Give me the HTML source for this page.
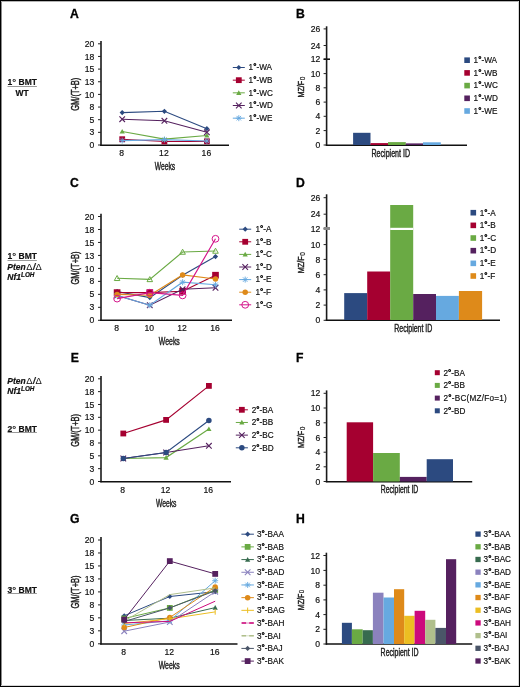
<!DOCTYPE html>
<html><head><meta charset="utf-8"><style>
html,body{margin:0;padding:0;background:#fff;width:520px;height:687px;overflow:hidden}
svg{display:block;filter:blur(0.45px)}
text{font-family:"Liberation Sans", sans-serif}
</style></head><body>
<svg width="520" height="687" viewBox="0 0 520 687" font-family='"Liberation Sans", sans-serif'>
<rect x="0" y="1" width="1" height="686" fill="#8c8c8c" transform="translate(1,0)"/>
<rect x="1" y="1" width="518" height="1" fill="#b4b4b4"/>
<rect x="518" y="1" width="1" height="685" fill="#d6d6d6"/>
<rect x="1" y="685" width="517" height="1" fill="#d6d6d6"/>
<rect x="0.5" y="0.5" width="519" height="686" fill="none" stroke="#000" stroke-width="1"/>
<text x="70.05" y="18.4" font-size="12.2" text-anchor="start" font-weight="bold" font-style="normal" fill="#000" stroke="#000" stroke-width="0.3">A</text>
<text x="296.05" y="17.9" font-size="12.2" text-anchor="start" font-weight="bold" font-style="normal" fill="#000" stroke="#000" stroke-width="0.3">B</text>
<text x="70.05" y="186.9" font-size="12.2" text-anchor="start" font-weight="bold" font-style="normal" fill="#000" stroke="#000" stroke-width="0.3">C</text>
<text x="296.05" y="186.7" font-size="12.2" text-anchor="start" font-weight="bold" font-style="normal" fill="#000" stroke="#000" stroke-width="0.3">D</text>
<text x="70.65" y="361.6" font-size="12.2" text-anchor="start" font-weight="bold" font-style="normal" fill="#000" stroke="#000" stroke-width="0.3">E</text>
<text x="296.05" y="361.6" font-size="12.2" text-anchor="start" font-weight="bold" font-style="normal" fill="#000" stroke="#000" stroke-width="0.3">F</text>
<text x="70.05" y="522.9" font-size="12.2" text-anchor="start" font-weight="bold" font-style="normal" fill="#000" stroke="#000" stroke-width="0.3">G</text>
<text x="296.05" y="523.3" font-size="12.2" text-anchor="start" font-weight="bold" font-style="normal" fill="#000" stroke="#000" stroke-width="0.3">H</text>
<text x="7.5" y="85.4" font-size="8.5" font-weight="bold" fill="#111" stroke="#111" stroke-width="0.18">1<tspan font-size="9.8" stroke="#111" stroke-width="0.1">°</tspan><tspan> </tspan>BMT</text>
<line x1="7.5" y1="86.5" x2="36.9" y2="86.5" stroke="#999" stroke-width="1"/>
<text x="22.1" y="95.9" font-size="8.5" text-anchor="middle" font-weight="bold" font-style="normal" fill="#111" stroke="#111" stroke-width="0.18">WT</text>
<text x="7.5" y="259.2" font-size="8.5" font-weight="bold" fill="#111" stroke="#111" stroke-width="0.18">1<tspan font-size="9.8" stroke="#111" stroke-width="0.1">°</tspan><tspan> </tspan>BMT</text>
<line x1="7.5" y1="260.5" x2="36.9" y2="260.5" stroke="#999" stroke-width="1"/>
<text x="7.3" y="269.7" font-size="8.5" font-weight="bold" font-style="italic" fill="#111" stroke="#111" stroke-width="0.2">Pten<tspan font-weight="normal" font-style="normal" font-size="9.4" dx="0.6" stroke-width="0">&#916;</tspan><tspan dx="0.3">/</tspan><tspan font-weight="normal" font-style="normal" font-size="9.4" dx="0.3" stroke-width="0">&#916;</tspan></text>
<text x="7.3" y="279.7" font-size="8.5" font-weight="bold" font-style="italic" fill="#111" stroke="#111" stroke-width="0.2">Nf1<tspan font-size="6.4" dy="-2.4">LOH</tspan></text>
<text x="7.3" y="383.7" font-size="8.5" font-weight="bold" font-style="italic" fill="#111" stroke="#111" stroke-width="0.2">Pten<tspan font-weight="normal" font-style="normal" font-size="9.4" dx="0.6" stroke-width="0">&#916;</tspan><tspan dx="0.3">/</tspan><tspan font-weight="normal" font-style="normal" font-size="9.4" dx="0.3" stroke-width="0">&#916;</tspan></text>
<text x="7.3" y="393.8" font-size="8.5" font-weight="bold" font-style="italic" fill="#111" stroke="#111" stroke-width="0.2">Nf1<tspan font-size="6.4" dy="-2.4">LOH</tspan></text>
<text x="7.5" y="431.7" font-size="8.5" font-weight="bold" fill="#111" stroke="#111" stroke-width="0.18">2<tspan font-size="9.8" stroke="#111" stroke-width="0.1">°</tspan><tspan> </tspan>BMT</text>
<line x1="7.5" y1="432.5" x2="36.9" y2="432.5" stroke="#999" stroke-width="1"/>
<text x="7.5" y="592.7" font-size="8.5" font-weight="bold" fill="#111" stroke="#111" stroke-width="0.18">3<tspan font-size="9.8" stroke="#111" stroke-width="0.1">°</tspan><tspan> </tspan>BMT</text>
<line x1="7.5" y1="593.5" x2="36.9" y2="593.5" stroke="#999" stroke-width="1"/>
<line x1="101" y1="41" x2="101" y2="145.7" stroke="#1a1a1a" stroke-width="1.6"/>
<line x1="98" y1="145.0" x2="101" y2="145.0" stroke="#222" stroke-width="1"/>
<text x="94.2" y="148.1" font-size="8.6" text-anchor="end" font-weight="normal" font-style="normal" fill="#111"  stroke="#111" stroke-width="0.18">0</text>
<line x1="98" y1="132.35" x2="101" y2="132.35" stroke="#222" stroke-width="1"/>
<text x="94.2" y="135.45" font-size="8.6" text-anchor="end" font-weight="normal" font-style="normal" fill="#111"  stroke="#111" stroke-width="0.18">3</text>
<line x1="98" y1="119.7" x2="101" y2="119.7" stroke="#222" stroke-width="1"/>
<text x="94.2" y="122.8" font-size="8.6" text-anchor="end" font-weight="normal" font-style="normal" fill="#111"  stroke="#111" stroke-width="0.18">5</text>
<line x1="98" y1="107.05" x2="101" y2="107.05" stroke="#222" stroke-width="1"/>
<text x="94.2" y="110.14999999999999" font-size="8.6" text-anchor="end" font-weight="normal" font-style="normal" fill="#111"  stroke="#111" stroke-width="0.18">8</text>
<line x1="98" y1="94.4" x2="101" y2="94.4" stroke="#222" stroke-width="1"/>
<text x="94.2" y="97.5" font-size="8.6" text-anchor="end" font-weight="normal" font-style="normal" fill="#111"  stroke="#111" stroke-width="0.18">10</text>
<line x1="98" y1="81.75" x2="101" y2="81.75" stroke="#222" stroke-width="1"/>
<text x="94.2" y="84.85" font-size="8.6" text-anchor="end" font-weight="normal" font-style="normal" fill="#111"  stroke="#111" stroke-width="0.18">13</text>
<line x1="98" y1="69.1" x2="101" y2="69.1" stroke="#222" stroke-width="1"/>
<text x="94.2" y="72.19999999999999" font-size="8.6" text-anchor="end" font-weight="normal" font-style="normal" fill="#111"  stroke="#111" stroke-width="0.18">15</text>
<line x1="98" y1="56.45" x2="101" y2="56.45" stroke="#222" stroke-width="1"/>
<text x="94.2" y="59.550000000000004" font-size="8.6" text-anchor="end" font-weight="normal" font-style="normal" fill="#111"  stroke="#111" stroke-width="0.18">18</text>
<line x1="98" y1="43.8" x2="101" y2="43.8" stroke="#222" stroke-width="1"/>
<text x="94.2" y="46.9" font-size="8.6" text-anchor="end" font-weight="normal" font-style="normal" fill="#111"  stroke="#111" stroke-width="0.18">20</text>
<line x1="100.2" y1="145.3" x2="229" y2="145.3" stroke="#111" stroke-width="1.5"/>
<text x="121.7" y="155.8" font-size="8.6" text-anchor="middle" font-weight="normal" font-style="normal" fill="#111"  stroke="#111" stroke-width="0.18">8</text>
<text x="163.9" y="155.8" font-size="8.6" text-anchor="middle" font-weight="normal" font-style="normal" fill="#111"  stroke="#111" stroke-width="0.18">12</text>
<text x="206.4" y="155.8" font-size="8.6" text-anchor="middle" font-weight="normal" font-style="normal" fill="#111"  stroke="#111" stroke-width="0.18">16</text>
<text x="154.8" y="170" font-size="10.2" fill="#222" stroke="#222" stroke-width="0.42" textLength="20.4" lengthAdjust="spacingAndGlyphs" text-anchor="start">Weeks</text>
<text transform="translate(79.2,94.2) rotate(-90)" x="0" y="0" font-size="10.6" fill="#1a1a1a" stroke="#1a1a1a" stroke-width="0.45" text-anchor="middle" textLength="33" lengthAdjust="spacingAndGlyphs">GM/(T+B)</text>
<path d="M122.2 112.6L164.4 111.3L206.9 128.7" stroke="#2c4a80" stroke-width="1.15" fill="none"/>
<path d="M122.2 110.0L124.8 112.6L122.2 115.19999999999999L119.60000000000001 112.6Z" fill="#2c4a80"/>
<path d="M164.4 108.7L167.0 111.3L164.4 113.89999999999999L161.8 111.3Z" fill="#2c4a80"/>
<path d="M206.9 126.1L209.5 128.7L206.9 131.29999999999998L204.3 128.7Z" fill="#2c4a80"/>
<path d="M122.2 139.2L164.4 141.5L206.9 141.3" stroke="#a50030" stroke-width="1.15" fill="none"/>
<rect x="119.3" y="136.29999999999998" width="5.8" height="5.8" fill="#a50030"/>
<rect x="161.5" y="138.6" width="5.8" height="5.8" fill="#a50030"/>
<rect x="204.0" y="138.4" width="5.8" height="5.8" fill="#a50030"/>
<path d="M122.2 131.5L164.4 139.1L206.9 135.5" stroke="#6aaa44" stroke-width="1.15" fill="none"/>
<path d="M122.2 128.9L124.8 133.58L119.60000000000001 133.58Z" fill="#6aaa44"/>
<path d="M164.4 136.5L167.0 141.18L161.8 141.18Z" fill="#6aaa44"/>
<path d="M206.9 132.9L209.5 137.58L204.3 137.58Z" fill="#6aaa44"/>
<path d="M122.2 119.2L164.4 120.8L206.9 132.3" stroke="#55215f" stroke-width="1.15" fill="none"/>
<path d="M119.4 116.4L125.0 122.0M125.0 116.4L119.4 122.0" stroke="#55215f" stroke-width="1.1" fill="none"/>
<path d="M161.6 118.0L167.20000000000002 123.6M167.20000000000002 118.0L161.6 123.6" stroke="#55215f" stroke-width="1.1" fill="none"/>
<path d="M204.1 129.5L209.70000000000002 135.10000000000002M209.70000000000002 129.5L204.1 135.10000000000002" stroke="#55215f" stroke-width="1.1" fill="none"/>
<path d="M122.2 140.6L164.4 139.6L206.9 141" stroke="#66a9e0" stroke-width="1.15" fill="none"/>
<path d="M119.2 140.6L125.2 140.6M122.2 137.6L122.2 143.6M119.95 138.35L124.45 142.85M124.45 138.35L119.95 142.85" stroke="#66a9e0" stroke-width="0.9" fill="none"/>
<path d="M161.4 139.6L167.4 139.6M164.4 136.6L164.4 142.6M162.15 137.35L166.65 141.85M166.65 137.35L162.15 141.85" stroke="#66a9e0" stroke-width="0.9" fill="none"/>
<path d="M203.9 141L209.9 141M206.9 138.0L206.9 144.0M204.65 138.75L209.15 143.25M209.15 138.75L204.65 143.25" stroke="#66a9e0" stroke-width="0.9" fill="none"/>
<line x1="232.8" y1="67.5" x2="244.8" y2="67.5" stroke="#2c4a80" stroke-width="1"/>
<path d="M238.8 64.9L241.4 67.5L238.8 70.1L236.20000000000002 67.5Z" fill="#2c4a80"/>
<text x="248.6" y="70.3" font-size="8.2" text-anchor="start" font-weight="normal" font-style="normal" fill="#111"  stroke="#111" stroke-width="0.18">1<tspan stroke="#111" stroke-width="0.55">°</tspan>-WA</text>
<line x1="232.8" y1="80.17" x2="244.8" y2="80.17" stroke="#a50030" stroke-width="1"/>
<rect x="235.9" y="77.27" width="5.8" height="5.8" fill="#a50030"/>
<text x="248.6" y="82.97" font-size="8.2" text-anchor="start" font-weight="normal" font-style="normal" fill="#111"  stroke="#111" stroke-width="0.18">1<tspan stroke="#111" stroke-width="0.55">°</tspan>-WB</text>
<line x1="232.8" y1="92.84" x2="244.8" y2="92.84" stroke="#6aaa44" stroke-width="1"/>
<path d="M238.8 90.24000000000001L241.4 94.92L236.20000000000002 94.92Z" fill="#6aaa44"/>
<text x="248.6" y="95.64" font-size="8.2" text-anchor="start" font-weight="normal" font-style="normal" fill="#111"  stroke="#111" stroke-width="0.18">1<tspan stroke="#111" stroke-width="0.55">°</tspan>-WC</text>
<line x1="232.8" y1="105.50999999999999" x2="244.8" y2="105.50999999999999" stroke="#55215f" stroke-width="1"/>
<path d="M236.0 102.71L241.60000000000002 108.30999999999999M241.60000000000002 102.71L236.0 108.30999999999999" stroke="#55215f" stroke-width="1.1" fill="none"/>
<text x="248.6" y="108.30999999999999" font-size="8.2" text-anchor="start" font-weight="normal" font-style="normal" fill="#111"  stroke="#111" stroke-width="0.18">1<tspan stroke="#111" stroke-width="0.55">°</tspan>-WD</text>
<line x1="232.8" y1="118.18" x2="244.8" y2="118.18" stroke="#66a9e0" stroke-width="1"/>
<path d="M235.8 118.18L241.8 118.18M238.8 115.18L238.8 121.18M236.55 115.93L241.05 120.43M241.05 115.93L236.55 120.43" stroke="#66a9e0" stroke-width="0.9" fill="none"/>
<text x="248.6" y="120.98" font-size="8.2" text-anchor="start" font-weight="normal" font-style="normal" fill="#111"  stroke="#111" stroke-width="0.18">1<tspan stroke="#111" stroke-width="0.55">°</tspan>-WE</text>
<line x1="326.6" y1="26.3" x2="326.6" y2="145.7" stroke="#1a1a1a" stroke-width="1.6"/>
<line x1="323.6" y1="145" x2="326.6" y2="145" stroke="#222" stroke-width="1"/>
<text x="320.3" y="148.1" font-size="8.6" text-anchor="end" font-weight="normal" font-style="normal" fill="#111"  stroke="#111" stroke-width="0.18">0</text>
<line x1="323.6" y1="130.6" x2="326.6" y2="130.6" stroke="#222" stroke-width="1"/>
<text x="320.3" y="133.7" font-size="8.6" text-anchor="end" font-weight="normal" font-style="normal" fill="#111"  stroke="#111" stroke-width="0.18">2</text>
<line x1="323.6" y1="116.3" x2="326.6" y2="116.3" stroke="#222" stroke-width="1"/>
<text x="320.3" y="119.39999999999999" font-size="8.6" text-anchor="end" font-weight="normal" font-style="normal" fill="#111"  stroke="#111" stroke-width="0.18">4</text>
<line x1="323.6" y1="102.1" x2="326.6" y2="102.1" stroke="#222" stroke-width="1"/>
<text x="320.3" y="105.19999999999999" font-size="8.6" text-anchor="end" font-weight="normal" font-style="normal" fill="#111"  stroke="#111" stroke-width="0.18">6</text>
<line x1="323.6" y1="87.8" x2="326.6" y2="87.8" stroke="#222" stroke-width="1"/>
<text x="320.3" y="90.89999999999999" font-size="8.6" text-anchor="end" font-weight="normal" font-style="normal" fill="#111"  stroke="#111" stroke-width="0.18">8</text>
<line x1="323.6" y1="73.6" x2="326.6" y2="73.6" stroke="#222" stroke-width="1"/>
<text x="320.3" y="76.69999999999999" font-size="8.6" text-anchor="end" font-weight="normal" font-style="normal" fill="#111"  stroke="#111" stroke-width="0.18">10</text>
<line x1="323.6" y1="59.2" x2="326.6" y2="59.2" stroke="#222" stroke-width="1"/>
<text x="320.3" y="62.300000000000004" font-size="8.6" text-anchor="end" font-weight="normal" font-style="normal" fill="#111"  stroke="#111" stroke-width="0.18">12</text>
<line x1="323.6" y1="45.5" x2="326.6" y2="45.5" stroke="#222" stroke-width="1"/>
<text x="320.3" y="48.6" font-size="8.6" text-anchor="end" font-weight="normal" font-style="normal" fill="#111"  stroke="#111" stroke-width="0.18">24</text>
<line x1="323.6" y1="28.9" x2="326.6" y2="28.9" stroke="#222" stroke-width="1"/>
<text x="320.3" y="32.0" font-size="8.6" text-anchor="end" font-weight="normal" font-style="normal" fill="#111"  stroke="#111" stroke-width="0.18">26</text>
<line x1="323.6" y1="59.2" x2="330" y2="59.2" stroke="#111" stroke-width="1.6"/>
<line x1="325.8" y1="145.3" x2="467" y2="145.3" stroke="#111" stroke-width="1.5"/>
<rect x="353.1" y="132.8" width="17.399999999999977" height="12.199999999999989" fill="#2c4a80"/>
<rect x="370.5" y="143.1" width="17.5" height="1.9000000000000057" fill="#a50030"/>
<rect x="388" y="142.1" width="17.80000000000001" height="2.9000000000000057" fill="#6aaa44"/>
<rect x="405.8" y="143.4" width="17.19999999999999" height="1.5999999999999943" fill="#55215f"/>
<rect x="423" y="142.3" width="17.80000000000001" height="2.6999999999999886" fill="#66a9e0"/>
<text x="371.5" y="157" font-size="10.0" fill="#222" stroke="#222" stroke-width="0.42" textLength="38.5" lengthAdjust="spacingAndGlyphs" text-anchor="start">Recipient ID</text>
<text transform="translate(304.1,97.6) rotate(-90)" x="0" y="0" font-size="9.8" fill="#1a1a1a" stroke="#1a1a1a" stroke-width="0.42" textLength="16.80" lengthAdjust="spacingAndGlyphs">MZ/F</text>
<text transform="translate(304.6,80.20) rotate(-90)" x="0" y="0" font-size="6.6" fill="#222" stroke="#222" stroke-width="0.2" textLength="3.60" lengthAdjust="spacingAndGlyphs">0</text>
<rect x="464.3" y="57.400000000000006" width="5.6" height="5.6" fill="#2c4a80"/>
<text x="473.6" y="63.0" font-size="8.2" text-anchor="start" font-weight="normal" font-style="normal" fill="#111"  stroke="#111" stroke-width="0.18">1<tspan stroke="#111" stroke-width="0.55">°</tspan>-WA</text>
<rect x="464.3" y="70.10000000000001" width="5.6" height="5.6" fill="#a50030"/>
<text x="473.6" y="75.7" font-size="8.2" text-anchor="start" font-weight="normal" font-style="normal" fill="#111"  stroke="#111" stroke-width="0.18">1<tspan stroke="#111" stroke-width="0.55">°</tspan>-WB</text>
<rect x="464.3" y="82.8" width="5.6" height="5.6" fill="#6aaa44"/>
<text x="473.6" y="88.39999999999999" font-size="8.2" text-anchor="start" font-weight="normal" font-style="normal" fill="#111"  stroke="#111" stroke-width="0.18">1<tspan stroke="#111" stroke-width="0.55">°</tspan>-WC</text>
<rect x="464.3" y="95.5" width="5.6" height="5.6" fill="#55215f"/>
<text x="473.6" y="101.1" font-size="8.2" text-anchor="start" font-weight="normal" font-style="normal" fill="#111"  stroke="#111" stroke-width="0.18">1<tspan stroke="#111" stroke-width="0.55">°</tspan>-WD</text>
<rect x="464.3" y="108.2" width="5.6" height="5.6" fill="#66a9e0"/>
<text x="473.6" y="113.8" font-size="8.2" text-anchor="start" font-weight="normal" font-style="normal" fill="#111"  stroke="#111" stroke-width="0.18">1<tspan stroke="#111" stroke-width="0.55">°</tspan>-WE</text>
<line x1="101" y1="213.7" x2="101" y2="321.0" stroke="#1a1a1a" stroke-width="1.6"/>
<line x1="98" y1="320.3" x2="101" y2="320.3" stroke="#222" stroke-width="1"/>
<text x="94.2" y="323.40000000000003" font-size="8.6" text-anchor="end" font-weight="normal" font-style="normal" fill="#111"  stroke="#111" stroke-width="0.18">0</text>
<line x1="98" y1="307.325" x2="101" y2="307.325" stroke="#222" stroke-width="1"/>
<text x="94.2" y="310.425" font-size="8.6" text-anchor="end" font-weight="normal" font-style="normal" fill="#111"  stroke="#111" stroke-width="0.18">3</text>
<line x1="98" y1="294.35" x2="101" y2="294.35" stroke="#222" stroke-width="1"/>
<text x="94.2" y="297.45000000000005" font-size="8.6" text-anchor="end" font-weight="normal" font-style="normal" fill="#111"  stroke="#111" stroke-width="0.18">5</text>
<line x1="98" y1="281.375" x2="101" y2="281.375" stroke="#222" stroke-width="1"/>
<text x="94.2" y="284.475" font-size="8.6" text-anchor="end" font-weight="normal" font-style="normal" fill="#111"  stroke="#111" stroke-width="0.18">8</text>
<line x1="98" y1="268.4" x2="101" y2="268.4" stroke="#222" stroke-width="1"/>
<text x="94.2" y="271.5" font-size="8.6" text-anchor="end" font-weight="normal" font-style="normal" fill="#111"  stroke="#111" stroke-width="0.18">10</text>
<line x1="98" y1="255.425" x2="101" y2="255.425" stroke="#222" stroke-width="1"/>
<text x="94.2" y="258.52500000000003" font-size="8.6" text-anchor="end" font-weight="normal" font-style="normal" fill="#111"  stroke="#111" stroke-width="0.18">13</text>
<line x1="98" y1="242.45" x2="101" y2="242.45" stroke="#222" stroke-width="1"/>
<text x="94.2" y="245.54999999999998" font-size="8.6" text-anchor="end" font-weight="normal" font-style="normal" fill="#111"  stroke="#111" stroke-width="0.18">15</text>
<line x1="98" y1="229.475" x2="101" y2="229.475" stroke="#222" stroke-width="1"/>
<text x="94.2" y="232.575" font-size="8.6" text-anchor="end" font-weight="normal" font-style="normal" fill="#111"  stroke="#111" stroke-width="0.18">18</text>
<line x1="98" y1="216.5" x2="101" y2="216.5" stroke="#222" stroke-width="1"/>
<text x="94.2" y="219.6" font-size="8.6" text-anchor="end" font-weight="normal" font-style="normal" fill="#111"  stroke="#111" stroke-width="0.18">20</text>
<line x1="100.2" y1="320.3" x2="232" y2="320.3" stroke="#111" stroke-width="1.5"/>
<text x="116.6" y="330.8" font-size="8.6" text-anchor="middle" font-weight="normal" font-style="normal" fill="#111"  stroke="#111" stroke-width="0.18">8</text>
<text x="149.3" y="330.8" font-size="8.6" text-anchor="middle" font-weight="normal" font-style="normal" fill="#111"  stroke="#111" stroke-width="0.18">10</text>
<text x="182.1" y="330.8" font-size="8.6" text-anchor="middle" font-weight="normal" font-style="normal" fill="#111"  stroke="#111" stroke-width="0.18">12</text>
<text x="215.0" y="330.8" font-size="8.6" text-anchor="middle" font-weight="normal" font-style="normal" fill="#111"  stroke="#111" stroke-width="0.18">16</text>
<text x="158.8" y="345.3" font-size="10.2" fill="#222" stroke="#222" stroke-width="0.42" textLength="21" lengthAdjust="spacingAndGlyphs" text-anchor="start">Weeks</text>
<text transform="translate(79.2,268) rotate(-90)" x="0" y="0" font-size="10.6" fill="#1a1a1a" stroke="#1a1a1a" stroke-width="0.45" text-anchor="middle" textLength="33" lengthAdjust="spacingAndGlyphs">GM/(T+B)</text>
<path d="M117.1 291.5L149.8 297.6L182.6 275.2L215.5 256.6" stroke="#2c4a80" stroke-width="1.15" fill="none"/>
<path d="M117.1 288.9L119.69999999999999 291.5L117.1 294.1L114.5 291.5Z" fill="#2c4a80"/>
<path d="M149.8 295.0L152.4 297.6L149.8 300.20000000000005L147.20000000000002 297.6Z" fill="#2c4a80"/>
<path d="M182.6 272.59999999999997L185.2 275.2L182.6 277.8L180.0 275.2Z" fill="#2c4a80"/>
<path d="M215.5 254.00000000000003L218.1 256.6L215.5 259.20000000000005L212.9 256.6Z" fill="#2c4a80"/>
<path d="M117.1 292.6L149.8 292.6L182.6 291.3L215.5 275.2" stroke="#a50030" stroke-width="1.15" fill="none"/>
<rect x="113.765" y="289.26500000000004" width="6.669999999999999" height="6.669999999999999" fill="#a50030"/>
<rect x="146.465" y="289.26500000000004" width="6.669999999999999" height="6.669999999999999" fill="#a50030"/>
<rect x="179.265" y="287.96500000000003" width="6.669999999999999" height="6.669999999999999" fill="#a50030"/>
<rect x="212.165" y="271.865" width="6.669999999999999" height="6.669999999999999" fill="#a50030"/>
<path d="M117.1 278.3L149.8 279.4L182.6 252L215.5 251" stroke="#6aaa44" stroke-width="1.15" fill="none"/>
<path d="M117.1 275.5L119.89999999999999 280.54L114.3 280.54Z" fill="none" stroke="#6aaa44" stroke-width="1"/>
<path d="M149.8 276.59999999999997L152.60000000000002 281.64L147.0 281.64Z" fill="none" stroke="#6aaa44" stroke-width="1"/>
<path d="M182.6 249.2L185.4 254.24L179.79999999999998 254.24Z" fill="none" stroke="#6aaa44" stroke-width="1"/>
<path d="M215.5 248.2L218.3 253.24L212.7 253.24Z" fill="none" stroke="#6aaa44" stroke-width="1"/>
<path d="M117.1 295.5L149.8 305.2L182.6 289.3L215.5 287.8" stroke="#55215f" stroke-width="1.15" fill="none"/>
<path d="M114.3 292.7L119.89999999999999 298.3M119.89999999999999 292.7L114.3 298.3" stroke="#55215f" stroke-width="1.1" fill="none"/>
<path d="M147.0 302.4L152.60000000000002 308.0M152.60000000000002 302.4L147.0 308.0" stroke="#55215f" stroke-width="1.1" fill="none"/>
<path d="M179.79999999999998 286.5L185.4 292.1M185.4 286.5L179.79999999999998 292.1" stroke="#55215f" stroke-width="1.1" fill="none"/>
<path d="M212.7 285.0L218.3 290.6M218.3 285.0L212.7 290.6" stroke="#55215f" stroke-width="1.1" fill="none"/>
<path d="M117.1 295.5L149.8 305.2L182.6 282.2L215.5 284.8" stroke="#66a9e0" stroke-width="1.15" fill="none"/>
<path d="M114.1 295.5L120.1 295.5M117.1 292.5L117.1 298.5M114.85 293.25L119.35 297.75M119.35 293.25L114.85 297.75" stroke="#66a9e0" stroke-width="0.9" fill="none"/>
<path d="M146.8 305.2L152.8 305.2M149.8 302.2L149.8 308.2M147.55 302.95L152.05 307.45M152.05 302.95L147.55 307.45" stroke="#66a9e0" stroke-width="0.9" fill="none"/>
<path d="M179.6 282.2L185.6 282.2M182.6 279.2L182.6 285.2M180.35 279.95L184.85 284.45M184.85 279.95L180.35 284.45" stroke="#66a9e0" stroke-width="0.9" fill="none"/>
<path d="M212.5 284.8L218.5 284.8M215.5 281.8L215.5 287.8M213.25 282.55L217.75 287.05M217.75 282.55L213.25 287.05" stroke="#66a9e0" stroke-width="0.9" fill="none"/>
<path d="M117.1 294.4L149.8 295.2L182.6 274.9L215.5 279" stroke="#de8a1a" stroke-width="1.15" fill="none"/>
<circle cx="117.1" cy="294.4" r="2.75" fill="#de8a1a"/>
<circle cx="149.8" cy="295.2" r="2.75" fill="#de8a1a"/>
<circle cx="182.6" cy="274.9" r="2.75" fill="#de8a1a"/>
<circle cx="215.5" cy="279" r="2.75" fill="#de8a1a"/>
<path d="M117.1 298.6L149.8 292.7L182.6 295.4L215.5 238.8" stroke="#d4148a" stroke-width="1.15" fill="none"/>
<circle cx="117.1" cy="298.6" r="3.4" fill="none" stroke="#d4148a" stroke-width="1"/>
<circle cx="149.8" cy="292.7" r="3.4" fill="none" stroke="#d4148a" stroke-width="1"/>
<circle cx="182.6" cy="295.4" r="3.4" fill="none" stroke="#d4148a" stroke-width="1"/>
<circle cx="215.5" cy="238.8" r="3.4" fill="none" stroke="#d4148a" stroke-width="1"/>
<line x1="239.2" y1="229.2" x2="251.2" y2="229.2" stroke="#2c4a80" stroke-width="1"/>
<path d="M245.2 226.6L247.79999999999998 229.2L245.2 231.79999999999998L242.6 229.2Z" fill="#2c4a80"/>
<text x="255.4" y="232.0" font-size="8.2" text-anchor="start" font-weight="normal" font-style="normal" fill="#111"  stroke="#111" stroke-width="0.18">1<tspan stroke="#111" stroke-width="0.55">°</tspan>-A</text>
<line x1="239.2" y1="241.79999999999998" x2="251.2" y2="241.79999999999998" stroke="#a50030" stroke-width="1"/>
<rect x="242.29999999999998" y="238.89999999999998" width="5.8" height="5.8" fill="#a50030"/>
<text x="255.4" y="244.6" font-size="8.2" text-anchor="start" font-weight="normal" font-style="normal" fill="#111"  stroke="#111" stroke-width="0.18">1<tspan stroke="#111" stroke-width="0.55">°</tspan>-B</text>
<line x1="239.2" y1="254.39999999999998" x2="251.2" y2="254.39999999999998" stroke="#6aaa44" stroke-width="1"/>
<path d="M245.2 251.79999999999998L247.79999999999998 256.47999999999996L242.6 256.47999999999996Z" fill="#6aaa44"/>
<text x="255.4" y="257.2" font-size="8.2" text-anchor="start" font-weight="normal" font-style="normal" fill="#111"  stroke="#111" stroke-width="0.18">1<tspan stroke="#111" stroke-width="0.55">°</tspan>-C</text>
<line x1="239.2" y1="267.0" x2="251.2" y2="267.0" stroke="#55215f" stroke-width="1"/>
<path d="M242.39999999999998 264.2L248.0 269.8M248.0 264.2L242.39999999999998 269.8" stroke="#55215f" stroke-width="1.1" fill="none"/>
<text x="255.4" y="269.8" font-size="8.2" text-anchor="start" font-weight="normal" font-style="normal" fill="#111"  stroke="#111" stroke-width="0.18">1<tspan stroke="#111" stroke-width="0.55">°</tspan>-D</text>
<line x1="239.2" y1="279.59999999999997" x2="251.2" y2="279.59999999999997" stroke="#66a9e0" stroke-width="1"/>
<path d="M242.2 279.59999999999997L248.2 279.59999999999997M245.2 276.59999999999997L245.2 282.59999999999997M242.95 277.34999999999997L247.45 281.84999999999997M247.45 277.34999999999997L242.95 281.84999999999997" stroke="#66a9e0" stroke-width="0.9" fill="none"/>
<text x="255.4" y="282.4" font-size="8.2" text-anchor="start" font-weight="normal" font-style="normal" fill="#111"  stroke="#111" stroke-width="0.18">1<tspan stroke="#111" stroke-width="0.55">°</tspan>-E</text>
<line x1="239.2" y1="292.2" x2="251.2" y2="292.2" stroke="#de8a1a" stroke-width="1"/>
<circle cx="245.2" cy="292.2" r="2.75" fill="#de8a1a"/>
<text x="255.4" y="295.0" font-size="8.2" text-anchor="start" font-weight="normal" font-style="normal" fill="#111"  stroke="#111" stroke-width="0.18">1<tspan stroke="#111" stroke-width="0.55">°</tspan>-F</text>
<line x1="239.2" y1="304.79999999999995" x2="251.2" y2="304.79999999999995" stroke="#d4148a" stroke-width="1"/>
<circle cx="245.2" cy="304.79999999999995" r="3.4" fill="none" stroke="#d4148a" stroke-width="1"/>
<text x="255.4" y="307.59999999999997" font-size="8.2" text-anchor="start" font-weight="normal" font-style="normal" fill="#111"  stroke="#111" stroke-width="0.18">1<tspan stroke="#111" stroke-width="0.55">°</tspan>-G</text>
<line x1="326.6" y1="194.3" x2="326.6" y2="321.0" stroke="#1a1a1a" stroke-width="1.6"/>
<line x1="323.6" y1="320.3" x2="326.6" y2="320.3" stroke="#222" stroke-width="1"/>
<text x="320.3" y="323.40000000000003" font-size="8.6" text-anchor="end" font-weight="normal" font-style="normal" fill="#111"  stroke="#111" stroke-width="0.18">0</text>
<line x1="323.6" y1="305.1" x2="326.6" y2="305.1" stroke="#222" stroke-width="1"/>
<text x="320.3" y="308.20000000000005" font-size="8.6" text-anchor="end" font-weight="normal" font-style="normal" fill="#111"  stroke="#111" stroke-width="0.18">2</text>
<line x1="323.6" y1="289.9" x2="326.6" y2="289.9" stroke="#222" stroke-width="1"/>
<text x="320.3" y="293.0" font-size="8.6" text-anchor="end" font-weight="normal" font-style="normal" fill="#111"  stroke="#111" stroke-width="0.18">4</text>
<line x1="323.6" y1="274.7" x2="326.6" y2="274.7" stroke="#222" stroke-width="1"/>
<text x="320.3" y="277.8" font-size="8.6" text-anchor="end" font-weight="normal" font-style="normal" fill="#111"  stroke="#111" stroke-width="0.18">6</text>
<line x1="323.6" y1="259.4" x2="326.6" y2="259.4" stroke="#222" stroke-width="1"/>
<text x="320.3" y="262.5" font-size="8.6" text-anchor="end" font-weight="normal" font-style="normal" fill="#111"  stroke="#111" stroke-width="0.18">8</text>
<line x1="323.6" y1="244.6" x2="326.6" y2="244.6" stroke="#222" stroke-width="1"/>
<text x="320.3" y="247.7" font-size="8.6" text-anchor="end" font-weight="normal" font-style="normal" fill="#111"  stroke="#111" stroke-width="0.18">10</text>
<line x1="323.6" y1="228.6" x2="326.6" y2="228.6" stroke="#222" stroke-width="1"/>
<text x="320.3" y="231.7" font-size="8.6" text-anchor="end" font-weight="normal" font-style="normal" fill="#111"  stroke="#111" stroke-width="0.18">12</text>
<line x1="323.6" y1="214.2" x2="326.6" y2="214.2" stroke="#222" stroke-width="1"/>
<text x="320.3" y="217.29999999999998" font-size="8.6" text-anchor="end" font-weight="normal" font-style="normal" fill="#111"  stroke="#111" stroke-width="0.18">24</text>
<line x1="323.6" y1="197.7" x2="326.6" y2="197.7" stroke="#222" stroke-width="1"/>
<text x="320.3" y="200.79999999999998" font-size="8.6" text-anchor="end" font-weight="normal" font-style="normal" fill="#111"  stroke="#111" stroke-width="0.18">26</text>
<rect x="323.6" y="227" width="6.4" height="3" fill="#888"/>
<line x1="325.8" y1="320.3" x2="500" y2="320.3" stroke="#111" stroke-width="1.5"/>
<rect x="344.2" y="293.1" width="23.0" height="26.899999999999977" fill="#2c4a80"/>
<rect x="367.2" y="271.5" width="23.0" height="48.5" fill="#a50030"/>
<rect x="390.2" y="205" width="23.0" height="115" fill="#6aaa44"/>
<rect x="390.2" y="227.8" width="23" height="2.2" fill="#fff"/>
<rect x="413.2" y="294" width="22.80000000000001" height="26" fill="#55215f"/>
<rect x="436" y="295.9" width="22.899999999999977" height="24.100000000000023" fill="#66a9e0"/>
<rect x="458.9" y="291" width="23.200000000000045" height="29" fill="#de8a1a"/>
<text x="394.3" y="331.5" font-size="10.0" fill="#222" stroke="#222" stroke-width="0.42" textLength="38" lengthAdjust="spacingAndGlyphs" text-anchor="start">Recipient ID</text>
<text transform="translate(304.2,273.2) rotate(-90)" x="0" y="0" font-size="9.8" fill="#1a1a1a" stroke="#1a1a1a" stroke-width="0.42" textLength="16.80" lengthAdjust="spacingAndGlyphs">MZ/F</text>
<text transform="translate(304.7,255.80) rotate(-90)" x="0" y="0" font-size="6.6" fill="#222" stroke="#222" stroke-width="0.2" textLength="3.60" lengthAdjust="spacingAndGlyphs">0</text>
<rect x="470.5" y="209.89999999999998" width="5.6" height="5.6" fill="#2c4a80"/>
<text x="479.7" y="215.5" font-size="8.2" text-anchor="start" font-weight="normal" font-style="normal" fill="#111"  stroke="#111" stroke-width="0.18">1<tspan stroke="#111" stroke-width="0.55">°</tspan>-A</text>
<rect x="470.5" y="222.55999999999997" width="5.6" height="5.6" fill="#a50030"/>
<text x="479.7" y="228.16" font-size="8.2" text-anchor="start" font-weight="normal" font-style="normal" fill="#111"  stroke="#111" stroke-width="0.18">1<tspan stroke="#111" stroke-width="0.55">°</tspan>-B</text>
<rect x="470.5" y="235.21999999999997" width="5.6" height="5.6" fill="#6aaa44"/>
<text x="479.7" y="240.82" font-size="8.2" text-anchor="start" font-weight="normal" font-style="normal" fill="#111"  stroke="#111" stroke-width="0.18">1<tspan stroke="#111" stroke-width="0.55">°</tspan>-C</text>
<rect x="470.5" y="247.88" width="5.6" height="5.6" fill="#55215f"/>
<text x="479.7" y="253.48000000000002" font-size="8.2" text-anchor="start" font-weight="normal" font-style="normal" fill="#111"  stroke="#111" stroke-width="0.18">1<tspan stroke="#111" stroke-width="0.55">°</tspan>-D</text>
<rect x="470.5" y="260.53999999999996" width="5.6" height="5.6" fill="#66a9e0"/>
<text x="479.7" y="266.14" font-size="8.2" text-anchor="start" font-weight="normal" font-style="normal" fill="#111"  stroke="#111" stroke-width="0.18">1<tspan stroke="#111" stroke-width="0.55">°</tspan>-E</text>
<rect x="470.5" y="273.2" width="5.6" height="5.6" fill="#de8a1a"/>
<text x="479.7" y="278.8" font-size="8.2" text-anchor="start" font-weight="normal" font-style="normal" fill="#111"  stroke="#111" stroke-width="0.18">1<tspan stroke="#111" stroke-width="0.55">°</tspan>-F</text>
<line x1="101" y1="376" x2="101" y2="482.2" stroke="#1a1a1a" stroke-width="1.6"/>
<line x1="98" y1="481.5" x2="101" y2="481.5" stroke="#222" stroke-width="1"/>
<text x="94.2" y="484.6" font-size="8.6" text-anchor="end" font-weight="normal" font-style="normal" fill="#111"  stroke="#111" stroke-width="0.18">0</text>
<line x1="98" y1="468.6625" x2="101" y2="468.6625" stroke="#222" stroke-width="1"/>
<text x="94.2" y="471.76250000000005" font-size="8.6" text-anchor="end" font-weight="normal" font-style="normal" fill="#111"  stroke="#111" stroke-width="0.18">3</text>
<line x1="98" y1="455.825" x2="101" y2="455.825" stroke="#222" stroke-width="1"/>
<text x="94.2" y="458.925" font-size="8.6" text-anchor="end" font-weight="normal" font-style="normal" fill="#111"  stroke="#111" stroke-width="0.18">5</text>
<line x1="98" y1="442.9875" x2="101" y2="442.9875" stroke="#222" stroke-width="1"/>
<text x="94.2" y="446.08750000000003" font-size="8.6" text-anchor="end" font-weight="normal" font-style="normal" fill="#111"  stroke="#111" stroke-width="0.18">8</text>
<line x1="98" y1="430.15" x2="101" y2="430.15" stroke="#222" stroke-width="1"/>
<text x="94.2" y="433.25" font-size="8.6" text-anchor="end" font-weight="normal" font-style="normal" fill="#111"  stroke="#111" stroke-width="0.18">10</text>
<line x1="98" y1="417.3125" x2="101" y2="417.3125" stroke="#222" stroke-width="1"/>
<text x="94.2" y="420.4125" font-size="8.6" text-anchor="end" font-weight="normal" font-style="normal" fill="#111"  stroke="#111" stroke-width="0.18">13</text>
<line x1="98" y1="404.475" x2="101" y2="404.475" stroke="#222" stroke-width="1"/>
<text x="94.2" y="407.57500000000005" font-size="8.6" text-anchor="end" font-weight="normal" font-style="normal" fill="#111"  stroke="#111" stroke-width="0.18">15</text>
<line x1="98" y1="391.63750000000005" x2="101" y2="391.63750000000005" stroke="#222" stroke-width="1"/>
<text x="94.2" y="394.73750000000007" font-size="8.6" text-anchor="end" font-weight="normal" font-style="normal" fill="#111"  stroke="#111" stroke-width="0.18">18</text>
<line x1="98" y1="378.8" x2="101" y2="378.8" stroke="#222" stroke-width="1"/>
<text x="94.2" y="381.90000000000003" font-size="8.6" text-anchor="end" font-weight="normal" font-style="normal" fill="#111"  stroke="#111" stroke-width="0.18">20</text>
<line x1="100.2" y1="481.7" x2="231" y2="481.7" stroke="#111" stroke-width="1.5"/>
<text x="122.7" y="492.7" font-size="8.6" text-anchor="middle" font-weight="normal" font-style="normal" fill="#111"  stroke="#111" stroke-width="0.18">8</text>
<text x="165.5" y="492.7" font-size="8.6" text-anchor="middle" font-weight="normal" font-style="normal" fill="#111"  stroke="#111" stroke-width="0.18">12</text>
<text x="208.3" y="492.7" font-size="8.6" text-anchor="middle" font-weight="normal" font-style="normal" fill="#111"  stroke="#111" stroke-width="0.18">16</text>
<text x="155.9" y="506.6" font-size="10.2" fill="#222" stroke="#222" stroke-width="0.42" textLength="20.6" lengthAdjust="spacingAndGlyphs" text-anchor="start">Weeks</text>
<text transform="translate(79.2,430.4) rotate(-90)" x="0" y="0" font-size="10.6" fill="#1a1a1a" stroke="#1a1a1a" stroke-width="0.45" text-anchor="middle" textLength="32.8" lengthAdjust="spacingAndGlyphs">GM/(T+B)</text>
<path d="M123.3 433.5L166.1 419.9L208.9 385.9" stroke="#a50030" stroke-width="1.15" fill="none"/>
<rect x="120.39999999999999" y="430.6" width="5.8" height="5.8" fill="#a50030"/>
<rect x="163.2" y="417.0" width="5.8" height="5.8" fill="#a50030"/>
<rect x="206.0" y="383.0" width="5.8" height="5.8" fill="#a50030"/>
<path d="M123.3 458.5L166.1 457.6L208.9 429" stroke="#6aaa44" stroke-width="1.15" fill="none"/>
<path d="M123.3 455.9L125.89999999999999 460.58L120.7 460.58Z" fill="#6aaa44"/>
<path d="M166.1 455.0L168.7 459.68L163.5 459.68Z" fill="#6aaa44"/>
<path d="M208.9 426.4L211.5 431.08L206.3 431.08Z" fill="#6aaa44"/>
<path d="M123.3 458.5L166.1 452.5L208.9 445.8" stroke="#55215f" stroke-width="1.15" fill="none"/>
<path d="M120.5 455.7L126.1 461.3M126.1 455.7L120.5 461.3" stroke="#55215f" stroke-width="1.1" fill="none"/>
<path d="M163.29999999999998 449.7L168.9 455.3M168.9 449.7L163.29999999999998 455.3" stroke="#55215f" stroke-width="1.1" fill="none"/>
<path d="M206.1 443.0L211.70000000000002 448.6M211.70000000000002 443.0L206.1 448.6" stroke="#55215f" stroke-width="1.1" fill="none"/>
<path d="M123.3 458.5L166.1 452.5L208.9 420.5" stroke="#2c4a80" stroke-width="1.15" fill="none"/>
<circle cx="123.3" cy="458.5" r="2.75" fill="#2c4a80"/>
<circle cx="166.1" cy="452.5" r="2.75" fill="#2c4a80"/>
<circle cx="208.9" cy="420.5" r="2.75" fill="#2c4a80"/>
<line x1="235.8" y1="409.8" x2="247.9" y2="409.8" stroke="#a50030" stroke-width="1"/>
<rect x="238.95000000000002" y="406.90000000000003" width="5.8" height="5.8" fill="#a50030"/>
<text x="251.7" y="412.6" font-size="8.2" text-anchor="start" font-weight="normal" font-style="normal" fill="#111"  stroke="#111" stroke-width="0.18">2<tspan stroke="#111" stroke-width="0.55">°</tspan>-BA</text>
<line x1="235.8" y1="422.47" x2="247.9" y2="422.47" stroke="#6aaa44" stroke-width="1"/>
<path d="M241.85000000000002 419.87L244.45000000000002 424.55L239.25000000000003 424.55Z" fill="#6aaa44"/>
<text x="251.7" y="425.27000000000004" font-size="8.2" text-anchor="start" font-weight="normal" font-style="normal" fill="#111"  stroke="#111" stroke-width="0.18">2<tspan stroke="#111" stroke-width="0.55">°</tspan>-BB</text>
<line x1="235.8" y1="435.14" x2="247.9" y2="435.14" stroke="#55215f" stroke-width="1"/>
<path d="M239.05 432.34L244.65000000000003 437.94M244.65000000000003 432.34L239.05 437.94" stroke="#55215f" stroke-width="1.1" fill="none"/>
<text x="251.7" y="437.94" font-size="8.2" text-anchor="start" font-weight="normal" font-style="normal" fill="#111"  stroke="#111" stroke-width="0.18">2<tspan stroke="#111" stroke-width="0.55">°</tspan>-BC</text>
<line x1="235.8" y1="447.81" x2="247.9" y2="447.81" stroke="#2c4a80" stroke-width="1"/>
<circle cx="241.85000000000002" cy="447.81" r="2.75" fill="#2c4a80"/>
<text x="251.7" y="450.61" font-size="8.2" text-anchor="start" font-weight="normal" font-style="normal" fill="#111"  stroke="#111" stroke-width="0.18">2<tspan stroke="#111" stroke-width="0.55">°</tspan>-BD</text>
<line x1="326.6" y1="390.4" x2="326.6" y2="482.2" stroke="#1a1a1a" stroke-width="1.6"/>
<line x1="323.6" y1="481.5" x2="326.6" y2="481.5" stroke="#222" stroke-width="1"/>
<text x="320.3" y="484.6" font-size="8.6" text-anchor="end" font-weight="normal" font-style="normal" fill="#111"  stroke="#111" stroke-width="0.18">0</text>
<line x1="323.6" y1="466.8" x2="326.6" y2="466.8" stroke="#222" stroke-width="1"/>
<text x="320.3" y="469.90000000000003" font-size="8.6" text-anchor="end" font-weight="normal" font-style="normal" fill="#111"  stroke="#111" stroke-width="0.18">2</text>
<line x1="323.6" y1="452.2" x2="326.6" y2="452.2" stroke="#222" stroke-width="1"/>
<text x="320.3" y="455.3" font-size="8.6" text-anchor="end" font-weight="normal" font-style="normal" fill="#111"  stroke="#111" stroke-width="0.18">4</text>
<line x1="323.6" y1="437.5" x2="326.6" y2="437.5" stroke="#222" stroke-width="1"/>
<text x="320.3" y="440.6" font-size="8.6" text-anchor="end" font-weight="normal" font-style="normal" fill="#111"  stroke="#111" stroke-width="0.18">6</text>
<line x1="323.6" y1="422.8" x2="326.6" y2="422.8" stroke="#222" stroke-width="1"/>
<text x="320.3" y="425.90000000000003" font-size="8.6" text-anchor="end" font-weight="normal" font-style="normal" fill="#111"  stroke="#111" stroke-width="0.18">8</text>
<line x1="323.6" y1="408" x2="326.6" y2="408" stroke="#222" stroke-width="1"/>
<text x="320.3" y="411.1" font-size="8.6" text-anchor="end" font-weight="normal" font-style="normal" fill="#111"  stroke="#111" stroke-width="0.18">10</text>
<line x1="323.6" y1="393.3" x2="326.6" y2="393.3" stroke="#222" stroke-width="1"/>
<text x="320.3" y="396.40000000000003" font-size="8.6" text-anchor="end" font-weight="normal" font-style="normal" fill="#111"  stroke="#111" stroke-width="0.18">12</text>
<line x1="325.8" y1="481.7" x2="472.2" y2="481.7" stroke="#111" stroke-width="1.5"/>
<rect x="346.7" y="422.3" width="26.400000000000034" height="59.19999999999999" fill="#a50030"/>
<rect x="373.1" y="453" width="26.69999999999999" height="28.5" fill="#6aaa44"/>
<rect x="399.8" y="476.9" width="26.899999999999977" height="4.600000000000023" fill="#55215f"/>
<rect x="426.7" y="459.2" width="26.30000000000001" height="22.30000000000001" fill="#2c4a80"/>
<text x="380.8" y="493.3" font-size="10.0" fill="#222" stroke="#222" stroke-width="0.42" textLength="37.5" lengthAdjust="spacingAndGlyphs" text-anchor="start">Recipient ID</text>
<text transform="translate(304.1,447.95) rotate(-90)" x="0" y="0" font-size="9.8" fill="#1a1a1a" stroke="#1a1a1a" stroke-width="0.42" textLength="17.20" lengthAdjust="spacingAndGlyphs">MZ/F</text>
<text transform="translate(304.6,430.15) rotate(-90)" x="0" y="0" font-size="6.6" fill="#222" stroke="#222" stroke-width="0.2" textLength="3.70" lengthAdjust="spacingAndGlyphs">0</text>
<rect x="434.8" y="370.2" width="5" height="5" fill="#a50030"/>
<text x="443.5" y="375.5" font-size="8.2" text-anchor="start" font-weight="normal" font-style="normal" fill="#111"  stroke="#111" stroke-width="0.18">2<tspan stroke="#111" stroke-width="0.55">°</tspan>-BA</text>
<rect x="434.8" y="382.9" width="5" height="5" fill="#6aaa44"/>
<text x="443.5" y="388.2" font-size="8.2" text-anchor="start" font-weight="normal" font-style="normal" fill="#111"  stroke="#111" stroke-width="0.18">2<tspan stroke="#111" stroke-width="0.55">°</tspan>-BB</text>
<rect x="434.8" y="395.59999999999997" width="5" height="5" fill="#55215f"/>
<text x="443.5" y="400.9" font-size="8.2" text-anchor="start" font-weight="normal" font-style="normal" fill="#111" textLength="63.3" lengthAdjust="spacing" stroke="#111" stroke-width="0.18">2<tspan stroke="#111" stroke-width="0.55">°</tspan>-BC(MZ/Fo=1)</text>
<rect x="434.8" y="408.29999999999995" width="5" height="5" fill="#2c4a80"/>
<text x="443.5" y="413.59999999999997" font-size="8.2" text-anchor="start" font-weight="normal" font-style="normal" fill="#111"  stroke="#111" stroke-width="0.18">2<tspan stroke="#111" stroke-width="0.55">°</tspan>-BD</text>
<line x1="101" y1="537" x2="101" y2="644.5" stroke="#1a1a1a" stroke-width="1.6"/>
<line x1="98" y1="643.8" x2="101" y2="643.8" stroke="#222" stroke-width="1"/>
<text x="94.2" y="646.9" font-size="8.6" text-anchor="end" font-weight="normal" font-style="normal" fill="#111"  stroke="#111" stroke-width="0.18">0</text>
<line x1="98" y1="630.8249999999999" x2="101" y2="630.8249999999999" stroke="#222" stroke-width="1"/>
<text x="94.2" y="633.925" font-size="8.6" text-anchor="end" font-weight="normal" font-style="normal" fill="#111"  stroke="#111" stroke-width="0.18">3</text>
<line x1="98" y1="617.8499999999999" x2="101" y2="617.8499999999999" stroke="#222" stroke-width="1"/>
<text x="94.2" y="620.9499999999999" font-size="8.6" text-anchor="end" font-weight="normal" font-style="normal" fill="#111"  stroke="#111" stroke-width="0.18">5</text>
<line x1="98" y1="604.875" x2="101" y2="604.875" stroke="#222" stroke-width="1"/>
<text x="94.2" y="607.975" font-size="8.6" text-anchor="end" font-weight="normal" font-style="normal" fill="#111"  stroke="#111" stroke-width="0.18">8</text>
<line x1="98" y1="591.9" x2="101" y2="591.9" stroke="#222" stroke-width="1"/>
<text x="94.2" y="595.0" font-size="8.6" text-anchor="end" font-weight="normal" font-style="normal" fill="#111"  stroke="#111" stroke-width="0.18">10</text>
<line x1="98" y1="578.925" x2="101" y2="578.925" stroke="#222" stroke-width="1"/>
<text x="94.2" y="582.025" font-size="8.6" text-anchor="end" font-weight="normal" font-style="normal" fill="#111"  stroke="#111" stroke-width="0.18">13</text>
<line x1="98" y1="565.95" x2="101" y2="565.95" stroke="#222" stroke-width="1"/>
<text x="94.2" y="569.0500000000001" font-size="8.6" text-anchor="end" font-weight="normal" font-style="normal" fill="#111"  stroke="#111" stroke-width="0.18">15</text>
<line x1="98" y1="552.975" x2="101" y2="552.975" stroke="#222" stroke-width="1"/>
<text x="94.2" y="556.075" font-size="8.6" text-anchor="end" font-weight="normal" font-style="normal" fill="#111"  stroke="#111" stroke-width="0.18">18</text>
<line x1="98" y1="540.0" x2="101" y2="540.0" stroke="#222" stroke-width="1"/>
<text x="94.2" y="543.1" font-size="8.6" text-anchor="end" font-weight="normal" font-style="normal" fill="#111"  stroke="#111" stroke-width="0.18">20</text>
<line x1="100.2" y1="644" x2="237.5" y2="644" stroke="#111" stroke-width="1.5"/>
<text x="123.7" y="655.3" font-size="8.6" text-anchor="middle" font-weight="normal" font-style="normal" fill="#111"  stroke="#111" stroke-width="0.18">8</text>
<text x="169.3" y="655.3" font-size="8.6" text-anchor="middle" font-weight="normal" font-style="normal" fill="#111"  stroke="#111" stroke-width="0.18">12</text>
<text x="214.7" y="655.3" font-size="8.6" text-anchor="middle" font-weight="normal" font-style="normal" fill="#111"  stroke="#111" stroke-width="0.18">16</text>
<text x="158.7" y="668.6" font-size="10.2" fill="#222" stroke="#222" stroke-width="0.42" textLength="21.1" lengthAdjust="spacingAndGlyphs" text-anchor="start">Weeks</text>
<text transform="translate(79.2,592) rotate(-90)" x="0" y="0" font-size="10.6" fill="#1a1a1a" stroke="#1a1a1a" stroke-width="0.45" text-anchor="middle" textLength="33" lengthAdjust="spacingAndGlyphs">GM/(T+B)</text>
<path d="M124.2 615.8L169.8 596.5L215.2 591.7" stroke="#2c4a80" stroke-width="1.0" fill="none"/>
<path d="M124.2 613.1999999999999L126.8 615.8L124.2 618.4L121.60000000000001 615.8Z" fill="#2c4a80"/>
<path d="M169.8 593.9L172.4 596.5L169.8 599.1L167.20000000000002 596.5Z" fill="#2c4a80"/>
<path d="M215.2 589.1L217.79999999999998 591.7L215.2 594.3000000000001L212.6 591.7Z" fill="#2c4a80"/>
<path d="M124.2 618.5L169.8 607.9L215.2 590" stroke="#6aaa44" stroke-width="1.0" fill="none"/>
<rect x="121.3" y="615.6" width="5.8" height="5.8" fill="#6aaa44"/>
<rect x="166.9" y="605.0" width="5.8" height="5.8" fill="#6aaa44"/>
<rect x="212.29999999999998" y="587.1" width="5.8" height="5.8" fill="#6aaa44"/>
<path d="M124.2 620.5L169.8 618.2L215.2 607.6" stroke="#376b4f" stroke-width="1.0" fill="none"/>
<path d="M124.2 617.9L126.8 622.58L121.60000000000001 622.58Z" fill="#376b4f"/>
<path d="M169.8 615.6L172.4 620.2800000000001L167.20000000000002 620.2800000000001Z" fill="#376b4f"/>
<path d="M215.2 605.0L217.79999999999998 609.6800000000001L212.6 609.6800000000001Z" fill="#376b4f"/>
<path d="M124.2 631.2L169.8 622L215.2 591.7" stroke="#8b82be" stroke-width="1.0" fill="none"/>
<path d="M121.4 628.4000000000001L127.0 634.0M127.0 628.4000000000001L121.4 634.0" stroke="#8b82be" stroke-width="1.1" fill="none"/>
<path d="M167.0 619.2L172.60000000000002 624.8M172.60000000000002 619.2L167.0 624.8" stroke="#8b82be" stroke-width="1.1" fill="none"/>
<path d="M212.39999999999998 588.9000000000001L218.0 594.5M218.0 588.9000000000001L212.39999999999998 594.5" stroke="#8b82be" stroke-width="1.1" fill="none"/>
<path d="M124.2 625L169.8 620.8L215.2 580.7" stroke="#66a9e0" stroke-width="1.0" fill="none"/>
<path d="M121.2 625L127.2 625M124.2 622.0L124.2 628.0M121.95 622.75L126.45 627.25M126.45 622.75L121.95 627.25" stroke="#66a9e0" stroke-width="0.9" fill="none"/>
<path d="M166.8 620.8L172.8 620.8M169.8 617.8L169.8 623.8M167.55 618.55L172.05 623.05M172.05 618.55L167.55 623.05" stroke="#66a9e0" stroke-width="0.9" fill="none"/>
<path d="M212.2 580.7L218.2 580.7M215.2 577.7L215.2 583.7M212.95 578.45L217.45 582.95M217.45 578.45L212.95 582.95" stroke="#66a9e0" stroke-width="0.9" fill="none"/>
<path d="M124.2 627.5L169.8 617.5L215.2 586.9" stroke="#de8a1a" stroke-width="1.0" fill="none"/>
<circle cx="124.2" cy="627.5" r="2.75" fill="#de8a1a"/>
<circle cx="169.8" cy="617.5" r="2.75" fill="#de8a1a"/>
<circle cx="215.2" cy="586.9" r="2.75" fill="#de8a1a"/>
<path d="M124.2 623.5L169.8 618.8L215.2 611.9" stroke="#ecbe22" stroke-width="1.0" fill="none"/>
<path d="M124.2 620.7L124.2 626.3" stroke="#ecbe22" stroke-width="1" fill="none"/>
<path d="M169.8 616.0L169.8 621.5999999999999" stroke="#ecbe22" stroke-width="1" fill="none"/>
<path d="M215.2 609.1L215.2 614.6999999999999" stroke="#ecbe22" stroke-width="1" fill="none"/>
<path d="M124.2 622.8L169.8 621.4L215.2 601.2" stroke="#cc0a7c" stroke-width="1.0" fill="none"/>
<path d="M124.2 621L169.8 594.6L215.2 587.9" stroke="#b0bf8c" stroke-width="1.0" fill="none"/>
<path d="M124.2 621.5L169.8 607.9L215.2 590.8" stroke="#4a5568" stroke-width="1.0" fill="none"/>
<path d="M124.2 618.9L126.8 621.5L124.2 624.1L121.60000000000001 621.5Z" fill="#4a5568"/>
<path d="M169.8 605.3L172.4 607.9L169.8 610.5L167.20000000000002 607.9Z" fill="#4a5568"/>
<path d="M215.2 588.1999999999999L217.79999999999998 590.8L215.2 593.4L212.6 590.8Z" fill="#4a5568"/>
<path d="M124.2 619.6L169.8 561.1L215.2 573.9" stroke="#55215f" stroke-width="1.0" fill="none"/>
<rect x="121.3" y="616.7" width="5.8" height="5.8" fill="#55215f"/>
<rect x="166.9" y="558.2" width="5.8" height="5.8" fill="#55215f"/>
<rect x="212.29999999999998" y="571.0" width="5.8" height="5.8" fill="#55215f"/>
<line x1="241.4" y1="534.2" x2="253.9" y2="534.2" stroke="#2c4a80" stroke-width="1"/>
<path d="M247.65 531.6L250.25 534.2L247.65 536.8000000000001L245.05 534.2Z" fill="#2c4a80"/>
<text x="257" y="537.0" font-size="8.2" text-anchor="start" font-weight="normal" font-style="normal" fill="#111"  stroke="#111" stroke-width="0.18">3<tspan stroke="#111" stroke-width="0.55">°</tspan>-BAA</text>
<line x1="241.4" y1="546.8900000000001" x2="253.9" y2="546.8900000000001" stroke="#6aaa44" stroke-width="1"/>
<rect x="244.75" y="543.9900000000001" width="5.8" height="5.8" fill="#6aaa44"/>
<text x="257" y="549.69" font-size="8.2" text-anchor="start" font-weight="normal" font-style="normal" fill="#111"  stroke="#111" stroke-width="0.18">3<tspan stroke="#111" stroke-width="0.55">°</tspan>-BAB</text>
<line x1="241.4" y1="559.58" x2="253.9" y2="559.58" stroke="#376b4f" stroke-width="1"/>
<path d="M247.65 556.98L250.25 561.6600000000001L245.05 561.6600000000001Z" fill="#376b4f"/>
<text x="257" y="562.38" font-size="8.2" text-anchor="start" font-weight="normal" font-style="normal" fill="#111"  stroke="#111" stroke-width="0.18">3<tspan stroke="#111" stroke-width="0.55">°</tspan>-BAC</text>
<line x1="241.4" y1="572.2700000000001" x2="253.9" y2="572.2700000000001" stroke="#8b82be" stroke-width="1"/>
<path d="M244.85 569.4700000000001L250.45000000000002 575.07M250.45000000000002 569.4700000000001L244.85 575.07" stroke="#8b82be" stroke-width="1.1" fill="none"/>
<text x="257" y="575.07" font-size="8.2" text-anchor="start" font-weight="normal" font-style="normal" fill="#111"  stroke="#111" stroke-width="0.18">3<tspan stroke="#111" stroke-width="0.55">°</tspan>-BAD</text>
<line x1="241.4" y1="584.96" x2="253.9" y2="584.96" stroke="#66a9e0" stroke-width="1"/>
<path d="M244.65 584.96L250.65 584.96M247.65 581.96L247.65 587.96M245.4 582.71L249.9 587.21M249.9 582.71L245.4 587.21" stroke="#66a9e0" stroke-width="0.9" fill="none"/>
<text x="257" y="587.76" font-size="8.2" text-anchor="start" font-weight="normal" font-style="normal" fill="#111"  stroke="#111" stroke-width="0.18">3<tspan stroke="#111" stroke-width="0.55">°</tspan>-BAE</text>
<line x1="241.4" y1="597.6500000000001" x2="253.9" y2="597.6500000000001" stroke="#de8a1a" stroke-width="1"/>
<circle cx="247.65" cy="597.6500000000001" r="2.75" fill="#de8a1a"/>
<text x="257" y="600.45" font-size="8.2" text-anchor="start" font-weight="normal" font-style="normal" fill="#111"  stroke="#111" stroke-width="0.18">3<tspan stroke="#111" stroke-width="0.55">°</tspan>-BAF</text>
<line x1="241.4" y1="610.34" x2="253.9" y2="610.34" stroke="#ecbe22" stroke-width="1"/>
<path d="M247.65 607.5400000000001L247.65 613.14" stroke="#ecbe22" stroke-width="1" fill="none"/>
<text x="257" y="613.14" font-size="8.2" text-anchor="start" font-weight="normal" font-style="normal" fill="#111"  stroke="#111" stroke-width="0.18">3<tspan stroke="#111" stroke-width="0.55">°</tspan>-BAG</text>
<path d="M241.6 623.0300000000001L253.8 623.0300000000001" stroke="#cc0a7c" stroke-width="1.4" stroke-opacity="0.35" fill="none"/>
<path d="M241.6 623.0300000000001L246.1 623.0300000000001M249.2 623.0300000000001L253.8 623.0300000000001" stroke="#cc0a7c" stroke-width="1.4" fill="none"/>
<text x="257" y="625.83" font-size="8.2" text-anchor="start" font-weight="normal" font-style="normal" fill="#111"  stroke="#111" stroke-width="0.18">3<tspan stroke="#111" stroke-width="0.55">°</tspan>-BAH</text>
<path d="M241.6 635.72L253.8 635.72" stroke="#b0bf8c" stroke-width="1.4" stroke-opacity="0.35" fill="none"/>
<path d="M241.6 635.72L246.1 635.72M249.2 635.72L253.8 635.72" stroke="#b0bf8c" stroke-width="1.4" fill="none"/>
<text x="257" y="638.52" font-size="8.2" text-anchor="start" font-weight="normal" font-style="normal" fill="#111"  stroke="#111" stroke-width="0.18">3<tspan stroke="#111" stroke-width="0.55">°</tspan>-BAI</text>
<line x1="241.4" y1="648.4100000000001" x2="253.9" y2="648.4100000000001" stroke="#4a5568" stroke-width="1"/>
<path d="M247.65 645.8100000000001L250.25 648.4100000000001L247.65 651.0100000000001L245.05 648.4100000000001Z" fill="#4a5568"/>
<text x="257" y="651.21" font-size="8.2" text-anchor="start" font-weight="normal" font-style="normal" fill="#111"  stroke="#111" stroke-width="0.18">3<tspan stroke="#111" stroke-width="0.55">°</tspan>-BAJ</text>
<line x1="241.4" y1="661.1" x2="253.9" y2="661.1" stroke="#55215f" stroke-width="1"/>
<rect x="244.75" y="658.2" width="5.8" height="5.8" fill="#55215f"/>
<text x="257" y="663.9" font-size="8.2" text-anchor="start" font-weight="normal" font-style="normal" fill="#111"  stroke="#111" stroke-width="0.18">3<tspan stroke="#111" stroke-width="0.55">°</tspan>-BAK</text>
<line x1="326.4" y1="552.7" x2="326.4" y2="644.7" stroke="#1a1a1a" stroke-width="1.6"/>
<line x1="323.4" y1="644" x2="326.4" y2="644" stroke="#222" stroke-width="1"/>
<text x="320.1" y="647.1" font-size="8.6" text-anchor="end" font-weight="normal" font-style="normal" fill="#111"  stroke="#111" stroke-width="0.18">0</text>
<line x1="323.4" y1="629.3" x2="326.4" y2="629.3" stroke="#222" stroke-width="1"/>
<text x="320.1" y="632.4" font-size="8.6" text-anchor="end" font-weight="normal" font-style="normal" fill="#111"  stroke="#111" stroke-width="0.18">2</text>
<line x1="323.4" y1="614.6" x2="326.4" y2="614.6" stroke="#222" stroke-width="1"/>
<text x="320.1" y="617.7" font-size="8.6" text-anchor="end" font-weight="normal" font-style="normal" fill="#111"  stroke="#111" stroke-width="0.18">4</text>
<line x1="323.4" y1="599.9" x2="326.4" y2="599.9" stroke="#222" stroke-width="1"/>
<text x="320.1" y="603.0" font-size="8.6" text-anchor="end" font-weight="normal" font-style="normal" fill="#111"  stroke="#111" stroke-width="0.18">6</text>
<line x1="323.4" y1="585.2" x2="326.4" y2="585.2" stroke="#222" stroke-width="1"/>
<text x="320.1" y="588.3000000000001" font-size="8.6" text-anchor="end" font-weight="normal" font-style="normal" fill="#111"  stroke="#111" stroke-width="0.18">8</text>
<line x1="323.4" y1="570.4" x2="326.4" y2="570.4" stroke="#222" stroke-width="1"/>
<text x="320.1" y="573.5" font-size="8.6" text-anchor="end" font-weight="normal" font-style="normal" fill="#111"  stroke="#111" stroke-width="0.18">10</text>
<line x1="323.4" y1="555.5" x2="326.4" y2="555.5" stroke="#222" stroke-width="1"/>
<text x="320.1" y="558.6" font-size="8.6" text-anchor="end" font-weight="normal" font-style="normal" fill="#111"  stroke="#111" stroke-width="0.18">12</text>
<line x1="325.8" y1="644.1" x2="472.2" y2="644.1" stroke="#111" stroke-width="1.5"/>
<rect x="341.9" y="622.8" width="10.0" height="21.200000000000045" fill="#2c4a80"/>
<rect x="351.9" y="629.3" width="10.800000000000011" height="14.700000000000045" fill="#6aaa44"/>
<rect x="362.7" y="630.2" width="10.199999999999989" height="13.799999999999955" fill="#376b4f"/>
<rect x="372.9" y="592.7" width="10.600000000000023" height="51.299999999999955" fill="#8b82be"/>
<rect x="383.5" y="597.5" width="10.5" height="46.5" fill="#66a9e0"/>
<rect x="394" y="589.2" width="10.199999999999989" height="54.799999999999955" fill="#de8a1a"/>
<rect x="404.2" y="615.8" width="10.400000000000034" height="28.200000000000045" fill="#ecbe22"/>
<rect x="414.6" y="610.8" width="10.599999999999966" height="33.200000000000045" fill="#cc0a7c"/>
<rect x="425.2" y="619.8" width="10.199999999999989" height="24.200000000000045" fill="#b0bf8c"/>
<rect x="435.4" y="627.9" width="10.600000000000023" height="16.100000000000023" fill="#4a5568"/>
<rect x="446" y="559.2" width="10.199999999999989" height="84.79999999999995" fill="#55215f"/>
<text x="380.6" y="656" font-size="10.0" fill="#222" stroke="#222" stroke-width="0.42" textLength="38" lengthAdjust="spacingAndGlyphs" text-anchor="start">Recipient ID</text>
<text transform="translate(303.8,610.15) rotate(-90)" x="0" y="0" font-size="9.8" fill="#1a1a1a" stroke="#1a1a1a" stroke-width="0.42" textLength="16.40" lengthAdjust="spacingAndGlyphs">MZ/F</text>
<text transform="translate(304.3,593.15) rotate(-90)" x="0" y="0" font-size="6.6" fill="#222" stroke="#222" stroke-width="0.2" textLength="3.50" lengthAdjust="spacingAndGlyphs">0</text>
<rect x="475.4" y="531.45" width="5.3" height="5.3" fill="#2c4a80"/>
<text x="483.6" y="536.9" font-size="8.2" text-anchor="start" font-weight="normal" font-style="normal" fill="#111"  stroke="#111" stroke-width="0.18">3<tspan stroke="#111" stroke-width="0.55">°</tspan>-BAA</text>
<rect x="475.4" y="544.1400000000001" width="5.3" height="5.3" fill="#6aaa44"/>
<text x="483.6" y="549.59" font-size="8.2" text-anchor="start" font-weight="normal" font-style="normal" fill="#111"  stroke="#111" stroke-width="0.18">3<tspan stroke="#111" stroke-width="0.55">°</tspan>-BAB</text>
<rect x="475.4" y="556.83" width="5.3" height="5.3" fill="#376b4f"/>
<text x="483.6" y="562.28" font-size="8.2" text-anchor="start" font-weight="normal" font-style="normal" fill="#111"  stroke="#111" stroke-width="0.18">3<tspan stroke="#111" stroke-width="0.55">°</tspan>-BAC</text>
<rect x="475.4" y="569.5200000000001" width="5.3" height="5.3" fill="#8b82be"/>
<text x="483.6" y="574.97" font-size="8.2" text-anchor="start" font-weight="normal" font-style="normal" fill="#111"  stroke="#111" stroke-width="0.18">3<tspan stroke="#111" stroke-width="0.55">°</tspan>-BAD</text>
<rect x="475.4" y="582.21" width="5.3" height="5.3" fill="#66a9e0"/>
<text x="483.6" y="587.66" font-size="8.2" text-anchor="start" font-weight="normal" font-style="normal" fill="#111"  stroke="#111" stroke-width="0.18">3<tspan stroke="#111" stroke-width="0.55">°</tspan>-BAE</text>
<rect x="475.4" y="594.9000000000001" width="5.3" height="5.3" fill="#de8a1a"/>
<text x="483.6" y="600.35" font-size="8.2" text-anchor="start" font-weight="normal" font-style="normal" fill="#111"  stroke="#111" stroke-width="0.18">3<tspan stroke="#111" stroke-width="0.55">°</tspan>-BAF</text>
<rect x="475.4" y="607.59" width="5.3" height="5.3" fill="#ecbe22"/>
<text x="483.6" y="613.04" font-size="8.2" text-anchor="start" font-weight="normal" font-style="normal" fill="#111"  stroke="#111" stroke-width="0.18">3<tspan stroke="#111" stroke-width="0.55">°</tspan>-BAG</text>
<rect x="475.4" y="620.2800000000001" width="5.3" height="5.3" fill="#cc0a7c"/>
<text x="483.6" y="625.73" font-size="8.2" text-anchor="start" font-weight="normal" font-style="normal" fill="#111"  stroke="#111" stroke-width="0.18">3<tspan stroke="#111" stroke-width="0.55">°</tspan>-BAH</text>
<rect x="475.4" y="632.97" width="5.3" height="5.3" fill="#b0bf8c"/>
<text x="483.6" y="638.42" font-size="8.2" text-anchor="start" font-weight="normal" font-style="normal" fill="#111"  stroke="#111" stroke-width="0.18">3<tspan stroke="#111" stroke-width="0.55">°</tspan>-BAI</text>
<rect x="475.4" y="645.6600000000001" width="5.3" height="5.3" fill="#4a5568"/>
<text x="483.6" y="651.11" font-size="8.2" text-anchor="start" font-weight="normal" font-style="normal" fill="#111"  stroke="#111" stroke-width="0.18">3<tspan stroke="#111" stroke-width="0.55">°</tspan>-BAJ</text>
<rect x="475.4" y="658.35" width="5.3" height="5.3" fill="#55215f"/>
<text x="483.6" y="663.8" font-size="8.2" text-anchor="start" font-weight="normal" font-style="normal" fill="#111"  stroke="#111" stroke-width="0.18">3<tspan stroke="#111" stroke-width="0.55">°</tspan>-BAK</text>
</svg>
</body></html>
